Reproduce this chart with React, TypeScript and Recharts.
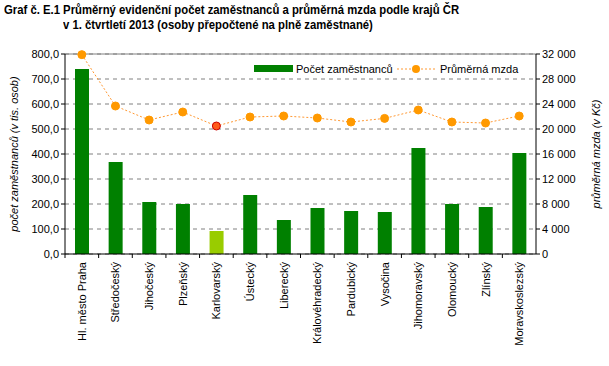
import React from "react";
import {
  Bar,
  CartesianGrid,
  Cell,
  ComposedChart,
  Legend,
  Line,
  ReferenceLine,
  XAxis,
  YAxis
} from "recharts";

const regions = [
  "Hl. město Praha",
  "Středočeský",
  "Jihočeský",
  "Plzeňský",
  "Karlovarský",
  "Ústecký",
  "Liberecký",
  "Královéhradecký",
  "Pardubický",
  "Vysočina",
  "Jihomoravský",
  "Olomoucký",
  "Zlínský",
  "Moravskoslezský"
];
const employees = [740, 368, 208, 200, 92, 236, 136, 184, 172, 168, 424, 200, 188, 404];
const wages = [
  31900, 23680, 21440, 22720, 20480, 21920, 22080, 21760, 21120, 21700, 23040, 21120,
  20960, 22080
];
const leftTicks = [0, 100, 200, 300, 400, 500, 600, 700, 800];
const rightTicks = [0, 4000, 8000, 12000, 16000, 20000, 24000, 28000, 32000];
const highlight = "Karlovarský";

const data = regions.map((name, i) => ({ name, employees: employees[i], wage: wages[i] }));

const FONT = "'Liberation Sans', Arial, sans-serif";
const BAND = 471 / regions.length;

function CategoryTick(props: any) {
  const { x, y, payload } = props;
  return (
    <g>
      <line x1={x - BAND / 2} x2={x - BAND / 2} y1={y - 8} y2={y - 4} stroke="#000" />
      <text
        transform={`translate(${x + 4},${y}) rotate(-90)`}
        textAnchor="end"
        fontSize={11}
        fontFamily={FONT}
        fill="#000"
      >
        {payload.value}
      </text>
    </g>
  );
}

function WageDot(props: any) {
  const { cx, cy, payload } = props;
  const hot = payload.name === highlight;
  return (
    <circle
      key={payload.name}
      cx={cx}
      cy={cy}
      r={4}
      fill={hot ? "#ff5a1a" : "#ff9900"}
      stroke={hot ? "#cc0000" : "#ff9900"}
      strokeWidth={1}
    />
  );
}

function LegendBox() {
  return (
    <svg width={270} height={14} style={{ fontFamily: FONT, fontSize: 11, display: "block" }}>
      <rect x={0} y={3} width={39} height={7} fill="#008000" />
      <text x={42} y={11}>Počet zaměstnanců</text>
      <line x1={143} x2={181} y1={7} y2={7} stroke="#ff9933" strokeDasharray="2 2" />
      <circle cx={162} cy={7} r={4} fill="#ff9900" />
      <text x={186} y={11}>Průměrná mzda</text>
    </svg>
  );
}

const titleStyle: React.CSSProperties = {
  position: "absolute",
  fontWeight: "bold",
  fontSize: 13,
  lineHeight: "16px",
  whiteSpace: "nowrap",
  transform: "scaleX(0.87)",
  transformOrigin: "left top"
};

export default function App() {
  return (
    <div
      style={{
        position: "absolute",
        left: 0,
        top: 0,
        width: 609,
        height: 366,
        background: "#fff",
        fontFamily: FONT
      }}
    >
      <div style={{ ...titleStyle, left: 4, top: 2 }}>
        Graf č. E.1 Průměrný evidenční počet zaměstnanců a průměrná mzda podle krajů ČR
      </div>
      <div style={{ ...titleStyle, left: 63, top: 17 }}>
        v 1. čtvrtletí 2013 (osoby přepočtené na plně zaměstnané)
      </div>
      <ComposedChart
        width={609}
        height={366}
        data={data}
        margin={{ top: 54, right: 0, bottom: 0, left: 0 }}
        barCategoryGap={0}
      >
        <CartesianGrid
          yAxisId="left"
          vertical={false}
          stroke="#808080"
          strokeDasharray="4 4"
        />
        <ReferenceLine yAxisId="left" y={800} stroke="#808080" />
        <XAxis
          dataKey="name"
          interval={0}
          height={112}
          tick={<CategoryTick />}
          tickLine={false}
          axisLine={{ stroke: "#000" }}
        />
        <YAxis
          yAxisId="left"
          width={65}
          domain={[0, 800]}
          ticks={leftTicks}
          tickFormatter={(v: number) => v.toFixed(1).replace(".", ",")}
          tick={{ fontSize: 11, fill: "#000", fontFamily: FONT }}
          tickSize={4}
          tickLine={{ stroke: "#000" }}
          axisLine={{ stroke: "#000" }}
          label={{
            value: "počet zaměstnanců (v tis. osob)",
            angle: -90,
            position: "insideLeft",
            offset: 14,
            style: { fontSize: 11, fontStyle: "italic", fill: "#000", textAnchor: "middle" }
          }}
        />
        <YAxis
          yAxisId="right"
          orientation="right"
          width={73}
          domain={[0, 32000]}
          ticks={rightTicks}
          tickFormatter={(v: number) => v.toLocaleString("en-US").replace(/,/g, " ")}
          tick={{ fontSize: 11, fill: "#000", fontFamily: FONT }}
          tickSize={4}
          tickLine={{ stroke: "#000" }}
          axisLine={{ stroke: "#000" }}
          label={{
            value: "průměrná mzda (v Kč)",
            angle: -90,
            position: "insideRight",
            offset: 13,
            style: { fontSize: 11, fontStyle: "italic", fill: "#000", textAnchor: "middle" }
          }}
        />
        <Legend
          layout="vertical"
          verticalAlign="middle"
          align="center"
          content={() => <LegendBox />}
          wrapperStyle={{ position: "absolute", left: 254, top: 62, width: 270, height: 14 }}
        />
        <Bar yAxisId="left" dataKey="employees" barSize={14} isAnimationActive={false}>
          {data.map((d) => (
            <Cell key={d.name} fill={d.name === highlight ? "#99cc00" : "#008000"} />
          ))}
        </Bar>
        <Line
          yAxisId="right"
          dataKey="wage"
          stroke="#ff9933"
          strokeWidth={1}
          strokeDasharray="2 2"
          dot={<WageDot />}
          activeDot={false}
          isAnimationActive={false}
        />
      </ComposedChart>
    </div>
  );
}
